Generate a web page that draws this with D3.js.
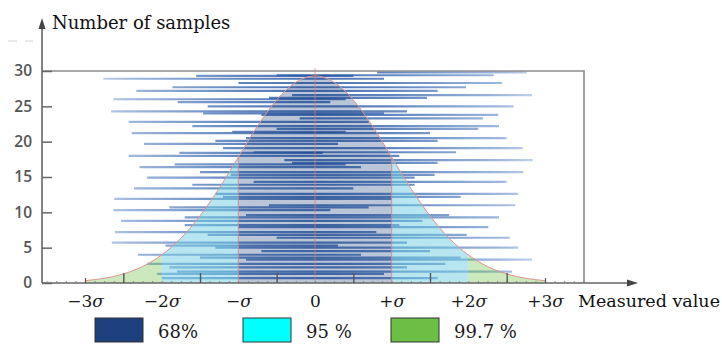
<!DOCTYPE html>
<html>
<head>
<meta charset="utf-8">
<script src="https://d3js.org/d3.v7.min.js"></script>
<style>
  body { margin: 0; background: #fff; }
  svg { display: block; }
</style>
</head>
<body>
<svg width="722" height="345"></svg>
<script>
// ---- data (x in sigma, y in number of samples) ----
const curveX = [-3, -2.75, -2.5, -2.25, -2, -1.75, -1.5, -1.25, -1, -0.75, -0.5, -0.25, 0,
                0.25, 0.5, 0.75, 1, 1.25, 1.5, 1.75, 2, 2.25, 2.5, 2.75, 3];
const curveY = [0.33, 0.67, 1.28, 2.33, 3.97, 6.33, 9.5, 13.4, 17.8, 22.2, 25.9, 28.4, 29.3,
                28.4, 25.9, 22.2, 17.8, 13.4, 9.5, 6.33, 3.97, 2.33, 1.28, 0.67, 0.33];

// sample lines: [count, from, to]
const leftLines = [
  [28.9, -2.76, 0.9], [27.2, -2.33, 1.6], [26.0, -2.63, 0.4], [24.3, -2.66, 1.2],
  [22.8, -2.43, 0.7], [21.2, -2.39, 1.5], [19.7, -2.23, 0.3], [18.0, -2.43, 1.1],
  [16.4, -2.29, 0.6], [14.9, -2.19, 1.3], [13.4, -2.36, 0.5], [11.9, -2.62, 1.0],
  [10.3, -2.63, 0.2], [8.8, -2.53, 1.4], [7.2, -2.61, 0.8], [5.7, -2.65, 1.2],
  [4.0, -2.31, 0.6], [2.7, -2.19, 1.7], [1.3, -2.06, 0.9]
];
const rightLines = [
  [29.8, 0.81, 2.76], [29.4, -0.5, 2.33], [28.3, -1.0, 2.44], [26.6, -0.3, 2.83],
  [25.0, -1.4, 2.59], [23.8, -0.7, 2.39], [22.2, -1.6, 2.40], [20.5, -0.9, 2.50],
  [19.1, -1.2, 2.71], [17.4, -0.4, 2.84], [15.7, -1.5, 2.72], [14.3, -0.8, 2.50],
  [12.6, -1.3, 2.65], [11.0, -0.6, 2.61], [9.3, -1.7, 2.40], [7.9, -1.0, 2.26],
  [6.4, -0.5, 2.54], [5.0, -1.3, 2.65], [3.3, -0.9, 2.83], [1.6, -1.8, 2.57]
];
const shortLines = [
  [29.3, -1.55, 0.5], [27.7, -1.86, 1.97], [26.2, -0.6, 1.46], [25.6, -1.79, 0.2],
  [24.0, -1.46, 0.9], [23.3, -0.2, 2.19], [21.8, -0.5, 2.13], [21.4, -1.08, 0.4],
  [20.1, -1.30, 1.60], [18.5, -0.8, 1.84], [18.4, -1.77, 0.1], [17.0, -0.3, 1.60],
  [16.8, -1.83, 0.4], [15.3, -1.1, 1.56], [13.9, -1.6, 1.3], [12.2, -1.2, 1.9],
  [10.7, -1.9, 0.7], [9.6, -0.9, 1.75], [8.2, -1.7, 1.1], [6.8, -1.4, 1.98],
  [5.3, -1.95, 0.3], [4.5, -0.7, 1.5], [3.6, -1.5, 1.9], [2.2, -1.9, 1.2], [0.7, -2.0, 1.6]
];

const sigmaTicks = [-3, -2, -1, 0, 1, 2, 3];
const sigmaLabels = ["−3σ", "−2σ", "−σ", "0", "+σ", "+2σ", "+3σ"];
const halfTicks = [-2.5, -1.5, -0.5, 0.5, 1.5, 2.5];
const countTicks = [0, 5, 10, 15, 20, 25, 30];

const bands = [
  { name: "68%",    fill: "#1c3f7e", op: 0.3 },
  { name: "95 %",   fill: "#6fcde4", op: 0.5 },
  { name: "99.7 %", fill: "#6cbf45", op: 0.35 }
];
const legendColors = ["#1c3f7e", "#00ffff", "#6cbf45"];

// ---- layout ----
const axisX = 42, axisY = 283;
const svg = d3.select("svg");
const x = d3.scaleLinear().domain([-3, 3]).range([85, 545]);
const y = d3.scaleLinear().domain([0, 30]).range([axisY, 71]);
const boxRight = 584;
const serif = "'DejaVu Serif', serif";

const defs = svg.append("defs");
const grad = defs.append("linearGradient").attr("id", "lineGrad")
  .attr("gradientUnits", "userSpaceOnUse")
  .attr("x1", x(-3)).attr("x2", x(3)).attr("y1", 0).attr("y2", 0);
[[0, "#c0d1ea"], [0.1, "#86a6d5"], [0.33, "#3d6bb1"], [0.5, "#1f4f9e"],
 [0.67, "#3d6bb1"], [0.9, "#86a6d5"], [1, "#c0d1ea"]]
  .forEach(([o, c]) => grad.append("stop").attr("offset", o).attr("stop-color", c));

// faint artefact at top-left
svg.append("line").attr("x1", 8).attr("x2", 33).attr("y1", 41).attr("y2", 41)
  .attr("stroke", "#e2e2e2").attr("stroke-width", 1.5).attr("stroke-dasharray", "9,8");

// sample lines
const allLines = leftLines.concat(rightLines, shortLines);
svg.append("g").selectAll("line")
  .data(allLines)
  .enter().append("line")
  .attr("x1", d => x(d[1])).attr("x2", d => x(d[2]))
  .attr("y1", d => y(d[0])).attr("y2", d => y(d[0]))
  .attr("stroke", "url(#lineGrad)")
  .attr("stroke-width", 2.2)
  .attr("stroke-opacity", 0.8);

// filled bands under the curve
const pts = curveX.map((v, i) => [v, curveY[i]]);
const area = d3.area().curve(d3.curveMonotoneX).x(d => x(d[0])).y0(axisY).y1(d => y(d[1]));
const line = d3.line().curve(d3.curveMonotoneX).x(d => x(d[0])).y(d => y(d[1]));

const pieces = [
  { band: 0, ranges: [[-1, 1]] },
  { band: 1, ranges: [[-2, -1], [1, 2]] },
  { band: 2, ranges: [[-3, -2], [2, 3]] }
];
pieces.forEach((p, i) => {
  const cp = defs.append("clipPath").attr("id", "clip" + i);
  p.ranges.forEach(r => cp.append("rect")
    .attr("x", x(r[0])).attr("width", x(r[1]) - x(r[0]))
    .attr("y", 0).attr("height", axisY));
  svg.append("path").datum(pts)
    .attr("d", area)
    .attr("fill", bands[p.band].fill)
    .attr("fill-opacity", bands[p.band].op)
    .attr("clip-path", `url(#clip${i})`);
});

// curve outline
svg.append("path").datum(pts).attr("d", line)
  .attr("fill", "none").attr("stroke", "#e0948f").attr("stroke-width", 1);

// red verticals at -sigma, 0, +sigma
svg.append("line").attr("x1", x(0)).attr("x2", x(0)).attr("y1", y(30) - 3).attr("y2", axisY)
  .attr("stroke", "#e07b7b").attr("stroke-width", 0.9).attr("stroke-opacity", 0.8);
[-1, 1].forEach(s => {
  svg.append("line").attr("x1", x(s)).attr("x2", x(s))
    .attr("y1", y(curveY[curveX.indexOf(s)])).attr("y2", axisY)
    .attr("stroke", "#d98585").attr("stroke-width", 1).attr("stroke-opacity", 0.9);
});

// frame: top line at 30 and right side
svg.append("path")
  .attr("d", `M${axisX},${y(30)}H${boxRight}V${axisY}`)
  .attr("fill", "none").attr("stroke", "#8d8d8d").attr("stroke-width", 1.6);

// y axis
const yAxis = svg.append("g").attr("transform", `translate(${axisX},0)`)
  .call(d3.axisLeft(y).tickValues(countTicks).tickSizeInner(-10).tickSizeOuter(0).tickPadding(10));
yAxis.select(".domain").remove();
yAxis.selectAll(".tick line").attr("stroke", "#666").attr("stroke-width", 1.5);
yAxis.selectAll(".tick text")
  .attr("font-family", "'Open Sans', sans-serif").attr("font-weight", 600)
  .attr("font-size", 15.5).attr("fill", "#555");

// axis lines with arrows
svg.append("line").attr("x1", axisX).attr("x2", axisX).attr("y1", axisY).attr("y2", 26)
  .attr("stroke", "#666").attr("stroke-width", 1.6);
svg.append("path").attr("d", `M${axisX - 3.5},${29}L${axisX},${18}L${axisX + 3.5},${29}Z`).attr("fill", "#444");
svg.append("line").attr("x1", axisX).attr("x2", 630).attr("y1", axisY).attr("y2", axisY)
  .attr("stroke", "#666").attr("stroke-width", 1.6);
svg.append("path").attr("d", `M627,${axisY - 3.5}L638,${axisY}L627,${axisY + 3.5}Z`).attr("fill", "#444");

// x ticks (pointing up into the plot)
const minorTicks = d3.range(-3.5, 3.51, 0.125);
svg.append("g").attr("transform", `translate(0,${axisY})`)
  .call(d3.axisTop(x).tickValues(minorTicks).tickSize(2).tickFormat(""))
  .call(g => g.select(".domain").remove())
  .selectAll("line").attr("stroke", "#777").attr("stroke-width", 0.8);
svg.append("g").attr("transform", `translate(0,${axisY})`)
  .call(d3.axisTop(x).tickValues(halfTicks).tickSize(10).tickFormat(""))
  .call(g => g.select(".domain").remove())
  .selectAll("line").attr("stroke", "#555").attr("stroke-width", 1.4);
svg.append("g").attr("transform", `translate(0,${axisY})`)
  .call(d3.axisTop(x).tickValues([-3, 3]).tickSize(5).tickFormat(""))
  .call(g => g.select(".domain").remove())
  .selectAll("line").attr("stroke", "#555").attr("stroke-width", 1.2);

// x tick labels
const xLab = svg.append("g").attr("transform", `translate(0,${axisY})`)
  .call(d3.axisBottom(x).tickValues(sigmaTicks).tickSize(0).tickPadding(12)
    .tickFormat((d, i) => sigmaLabels[i]));
xLab.select(".domain").remove();
xLab.selectAll(".tick text")
  .attr("font-family", serif).attr("font-size", 17).attr("fill", "#1a1a1a")
  .each(function(d, i) {
    const t = d3.select(this), s = sigmaLabels[i];
    if (s.endsWith("σ")) {
      t.text(null);
      t.append("tspan").text(s.slice(0, -1));
      t.append("tspan").attr("font-style", "italic").text("σ");
    }
  });

// axis titles
svg.append("text").attr("x", 52).attr("y", 29)
  .attr("font-family", serif).attr("font-size", 18).attr("fill", "#111")
  .text("Number of samples");
svg.append("text").attr("x", 578).attr("y", 307)
  .attr("font-family", serif).attr("font-size", 17.5).attr("fill", "#111")
  .text("Measured value");

// legend
const leg = svg.append("g").selectAll("g")
  .data(bands).enter().append("g")
  .attr("transform", (d, i) => `translate(${95 + i * 148},318)`);
leg.append("rect").attr("width", 48).attr("height", 24)
  .attr("fill", (d, i) => legendColors[i]).attr("stroke", "#333").attr("stroke-width", 1);
leg.append("text").attr("x", 63).attr("y", 20)
  .attr("font-family", serif).attr("font-size", 18).attr("fill", "#1a1a1a")
  .text(d => d.name);
</script>
</body>
</html>
